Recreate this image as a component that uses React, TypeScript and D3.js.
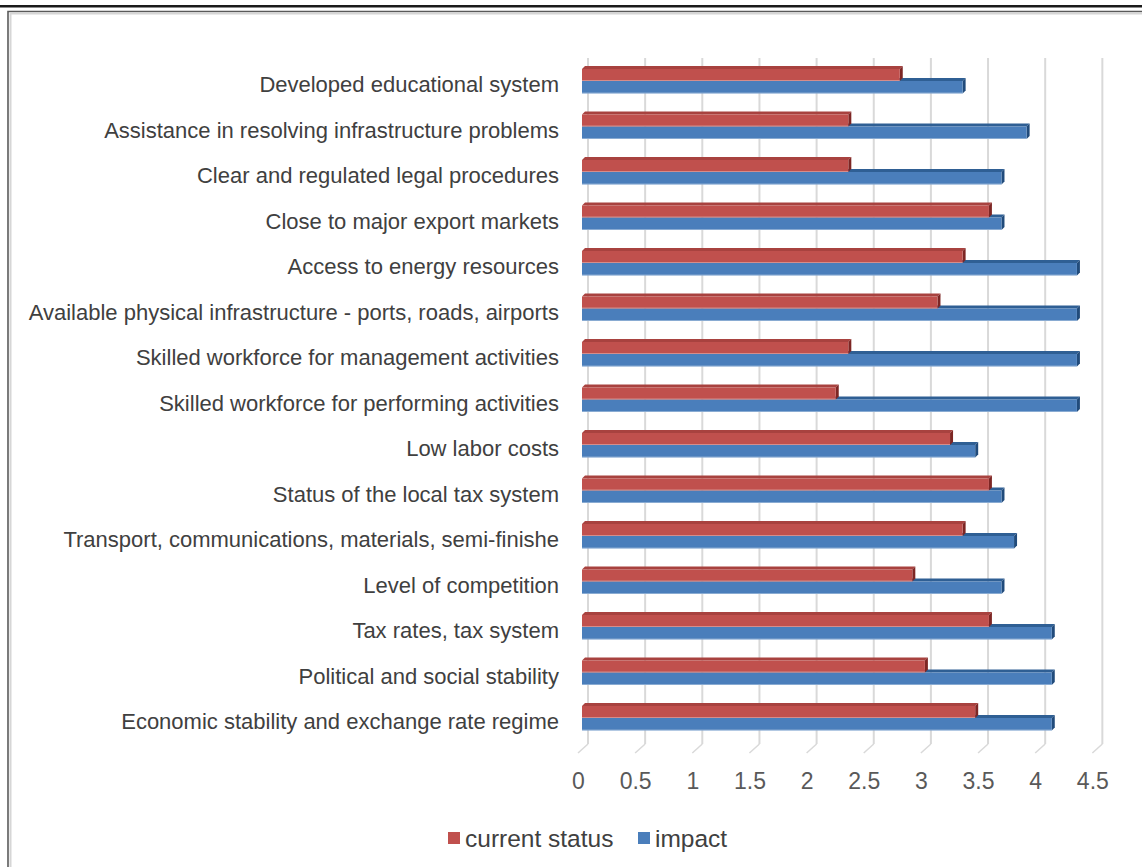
import React from "react";
import * as d3 from "d3";

const categories: string[] = [
  "Developed educational system",
  "Assistance in resolving infrastructure problems",
  "Clear and regulated legal procedures",
  "Close to major export markets ",
  "Access to energy resources",
  "Available physical infrastructure - ports, roads, airports",
  "Skilled workforce for management activities",
  "Skilled workforce for performing activities",
  "Low labor costs",
  "Status of the local tax system",
  "Transport, communications, materials, semi-finishe",
  "Level of competition",
  "Tax rates, tax system",
  "Political and social stability ",
  "Economic stability and exchange rate regime",
];

const currentStatus: number[] = [
  2.78, 2.33, 2.33, 3.56, 3.33, 3.11, 2.33, 2.22, 3.22, 3.56, 3.33, 2.89, 3.56, 3.0, 3.44,
];
const impact: number[] = [
  3.33, 3.89, 3.67, 3.67, 4.33, 4.33, 4.33, 4.33, 3.44, 3.67, 3.78, 3.67, 4.11, 4.11, 4.11,
];
const ticks: number[] = [0, 0.5, 1, 1.5, 2, 2.5, 3, 3.5, 4, 4.5];
const seriesNames: string[] = ["current status", "impact"];

const W = 1142;
const H = 867;

const RED = { front: "#c0504d", top: "#a8423f", side: "#7d2624" };
const BLUE = { front: "#4a7ebb", top: "#2f5f94", side: "#214b7b" };

function Bar3D({ x0, x1, y, h, c, d }: { x0: number; x1: number; y: number; h: number; c: any; d: number }) {
  return (
    <g>
      <path d={`M${x0},${y} L${x0 + d},${y - d} L${x1 + d},${y - d} L${x1},${y} Z`} fill={c.top} />
      <path d={`M${x1},${y} L${x1 + d},${y - d} L${x1 + d},${y + h - d} L${x1},${y + h} Z`} fill={c.side} />
      <rect x={x0} y={y} width={x1 - x0} height={h} fill={c.front} />
      <line x1={x0} y1={y + h - 0.5} x2={x1} y2={y + h - 0.5} stroke="#ffffff" strokeOpacity={0.35} strokeWidth={1} />
    </g>
  );
}

export default function App() {
  const x = d3.scaleLinear().domain([0, 4.5]).range([582, 582 + 114.3 * 4.5]);
  const y = d3.scaleBand<string>().domain(categories).range([58.25, 740.75]).padding(0);
  const bw = y.bandwidth();
  const depth = 3;
  const barH = 12;
  const font = "'Liberation Sans', Arial, sans-serif";

  return (
    <svg width={W} height={H} style={{ position: "absolute", left: 0, top: 0, background: "#fff" }} fontFamily={font}>
      <rect x={0} y={0} width={W} height={H} fill="#fff" />
      {/* top rule */}
      <rect x={0} y={5} width={W} height={2.5} fill="#1a1a1a" />
      {/* chart frame */}
      <path d={`M8,${H} L8,11.5 L${W},11.5`} fill="none" stroke="#5a5a5a" strokeWidth={1.6} />
      <path d={`M10.5,${H} L10.5,13.5 L${W},13.5`} fill="none" stroke="#d6d6d6" strokeWidth={2} />

      {/* gridlines: back wall + floor */}
      {ticks.map((t) => (
        <g key={t}>
          <line x1={x(t) + 6} x2={x(t) + 6} y1={58} y2={744} stroke="#d9d9d9" strokeWidth={2} />
          <line x1={x(t) + 6} x2={x(t) - 4} y1={744} y2={753} stroke="#d9d9d9" strokeWidth={1.5} />
        </g>
      ))}

      {/* bars */}
      {categories.map((c, i) => {
        const cy = (y(c) as number) + bw / 2;
        return (
          <g key={c}>
            <Bar3D x0={x(0)} x1={x(impact[i])} y={cy} h={barH + 0.5} c={BLUE} d={depth} />
            <Bar3D x0={x(0)} x1={x(currentStatus[i])} y={cy - barH} h={barH} c={RED} d={depth} />
          </g>
        );
      })}

      {/* category labels */}
      {categories.map((c) => {
        const cy = (y(c) as number) + bw / 2;
        return (
          <text key={c} x={559} y={cy + 11} textAnchor="end" fontSize={22} fill="#404040">
            {c}
          </text>
        );
      })}

      {/* tick labels */}
      {ticks.map((t) => (
        <text key={t} x={x(t) - 3.5} y={789} textAnchor="middle" fontSize={23} fill="#595959">
          {t}
        </text>
      ))}

      {/* legend */}
      <rect x={448} y={832} width={12} height={12} fill={RED.front} />
      <text x={465} y={847} fontSize={24.5} fill="#404040">
        {seriesNames[0]}
      </text>
      <rect x={638} y={832} width={12} height={12} fill={BLUE.front} />
      <text x={655} y={847} fontSize={24.5} fill="#404040">
        {seriesNames[1]}
      </text>
    </svg>
  );
}
